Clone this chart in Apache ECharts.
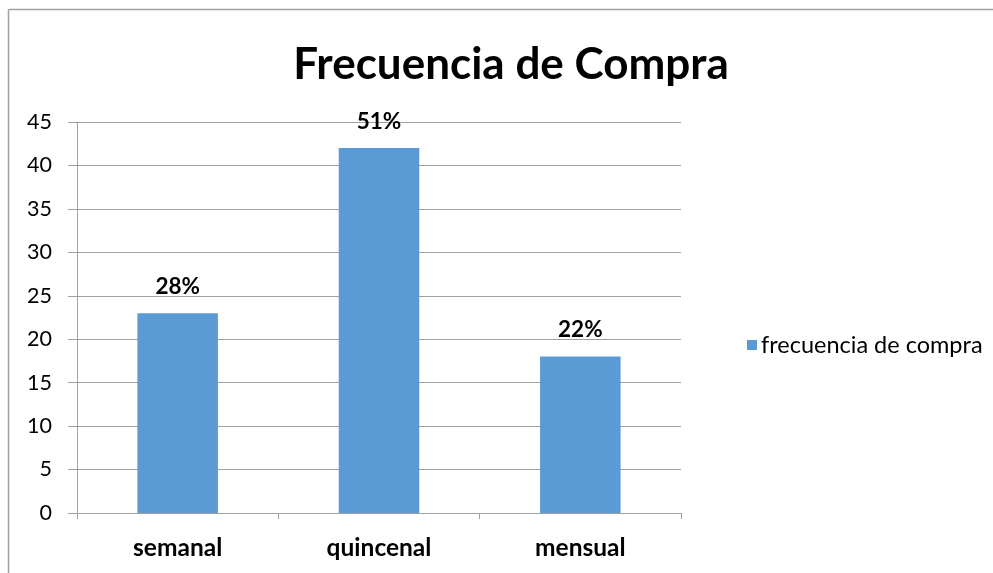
<!DOCTYPE html>
<html><head><meta charset="utf-8">
<script src="https://cdn.jsdelivr.net/npm/echarts@6/dist/echarts.min.js"></script>
<style>html,body{margin:0;padding:0;background:#fff}#c{width:993px;height:573px}</style>
</head><body><div id="c"></div>
<script>
const categories = ['semanal', 'quincenal', 'mensual'];
const values = [23, 42, 18];
const percentLabels = ['28%', '51%', '22%'];
const seriesName = 'frecuencia de compra';
const titleText = 'Frecuencia de Compra';

const FONT = 'Lato, "Open Sans", sans-serif';
const chart = echarts.init(document.getElementById('c'));
chart.setOption({
  animation: false,
  backgroundColor: '#fff',
  graphic: [
    {type: 'line', shape: {x1: 8.5, y1: 9.5, x2: 993, y2: 9.5},
     style: {stroke: '#a0a0a0', lineWidth: 1.5}, silent: true},
    {type: 'line', shape: {x1: 8.5, y1: 9.5, x2: 8.5, y2: 573},
     style: {stroke: '#a0a0a0', lineWidth: 1.5}, silent: true}
  ],
  title: {
    text: titleText, left: 506, top: 38, textAlign: 'center',
    textStyle: {fontFamily: FONT, fontWeight: 'bold', fontSize: 44, color: '#000'}
  },
  legend: {
    left: 742, top: 328, itemWidth: 10, itemHeight: 10, itemGap: 5,
    icon: 'rect',
    textStyle: {fontFamily: FONT, fontSize: 23.5, color: '#000', padding: [0,0,0,-1]},
    data: [seriesName]
  },
  grid: {left: 77, right: 312, top: 122, bottom: 60, containLabel: false},
  xAxis: {
    type: 'category', data: categories,
    axisLine: {lineStyle: {color: '#a0a0a0', width: 1}},
    axisTick: {show: true, length: 6, lineStyle: {color: '#a0a0a0'}},
    axisLabel: {fontFamily: FONT, fontWeight: 'bold', fontSize: 24.5, color: '#000', margin: 23}
  },
  yAxis: {
    type: 'value', min: 0, max: 45, interval: 5,
    axisLine: {show: true, lineStyle: {color: '#a0a0a0'}},
    axisTick: {show: true, length: 9, lineStyle: {color: '#a0a0a0'}},
    splitLine: {lineStyle: {color: '#a0a0a0'}},
    axisLabel: {fontFamily: FONT, fontSize: 21.5, color: '#000', margin: 25}
  },
  series: [{
    name: seriesName, type: 'bar', data: values, barWidth: '40%',
    itemStyle: {color: '#5b9bd5'},
    label: {
      show: true, position: 'top', distance: 15,
      formatter: p => percentLabels[p.dataIndex],
      fontFamily: FONT, fontWeight: 'bold', fontSize: 22.5, color: '#000'
    }
  }]
});
</script></body></html>
